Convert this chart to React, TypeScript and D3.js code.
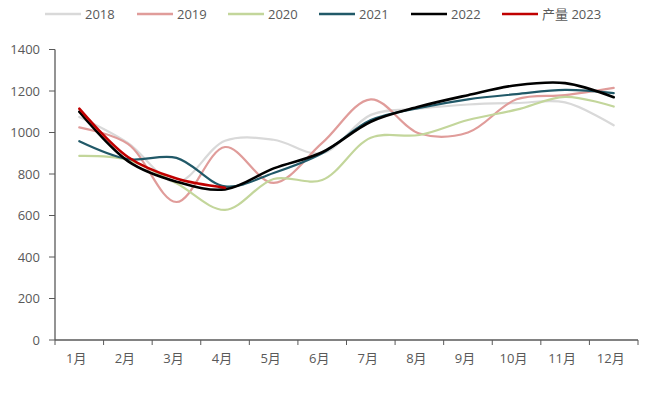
import React from "react";
import * as d3 from "d3";

const months = ["1月", "2月", "3月", "4月", "5月", "6月", "7月", "8月", "9月", "10月", "11月", "12月"];
const yTicks = [0, 200, 400, 600, 800, 1000, 1200, 1400];

const s2018 = [1075, 950, 760, 960, 965, 900, 1085, 1115, 1135, 1142, 1145, 1035];
const s2019 = [1025, 945, 665, 930, 757, 950, 1160, 995, 1000, 1160, 1180, 1215];
const s2020 = [887, 868, 755, 627, 776, 771, 975, 988, 1060, 1110, 1172, 1125];
const s2021 = [958, 872, 878, 740, 805, 900, 1060, 1118, 1160, 1185, 1205, 1190];
const s2022 = [1100, 862, 763, 726, 827, 905, 1052, 1125, 1180, 1228, 1238, 1170];
const s2023 = [1115, 882, 778, 734];

const series = [
  { name: "2018", values: s2018, color: "#d9d9d9", width: 2.2 },
  { name: "2019", values: s2019, color: "#e09c9a", width: 2.2 },
  { name: "2020", values: s2020, color: "#c3d69b", width: 2.2 },
  { name: "2021", values: s2021, color: "#215968", width: 2.2 },
  { name: "2022", values: s2022, color: "#000000", width: 2.6 },
  { name: "产量 2023", values: s2023, color: "#c00000", width: 2.6 },
];

const font = "'Open Sans', 'Noto Sans CJK SC', sans-serif";
const textColor = "#595959";

export default function App() {
  const width = 648;
  const height = 393;
  const x = d3.scaleBand<string>().domain(months).range([55, 638]);
  const y = d3.scaleLinear().domain([0, 1400]).range([340, 49.5]);

  const line = d3
    .line<number>()
    .x((_, i) => (x(months[i]) ?? 0) + x.bandwidth() / 2)
    .y((d) => y(d))
    .curve(d3.curveCatmullRom.alpha(0.5));

  const legendX = [45, 137, 228, 319, 411, 502];

  return (
    <svg
      width={width}
      height={height}
      style={{ position: "absolute", left: 0, top: 0, background: "#fff" }}
      fontFamily={font}
    >
      {/* legend */}
      {series.map((s, i) => (
        <g key={s.name} transform={`translate(${legendX[i]},14)`}>
          <line x1={0} x2={36} y1={0} y2={0} stroke={s.color} strokeWidth={2.5} />
          <text x={40} y={0} dy="0.35em" fontSize={13} fill={textColor}>
            {s.name}
          </text>
        </g>
      ))}

      {/* y axis */}
      <line x1={55} x2={55} y1={y(1400)} y2={y(0)} stroke="#595959" strokeWidth={1.3} />
      {yTicks.map((t) => (
        <g key={t}>
          <line x1={49} x2={55} y1={y(t)} y2={y(t)} stroke="#595959" strokeWidth={1} />
          <text x={40} y={y(t)} dy="0.35em" textAnchor="end" fontSize={13} fill={textColor}>
            {t}
          </text>
        </g>
      ))}

      {/* x axis */}
      <line x1={55} x2={638} y1={y(0)} y2={y(0)} stroke="#595959" strokeWidth={1.3} />
      {months.map((m, i) => (
        <line
          key={"t" + m}
          x1={(x(m) ?? 0)}
          x2={(x(m) ?? 0)}
          y1={y(0)}
          y2={y(0) + 5}
          stroke="#595959"
        />
      ))}
      <line x1={638} x2={638} y1={y(0)} y2={y(0) + 5} stroke="#595959" />
      {months.map((m) => (
        <text
          key={m}
          x={(x(m) ?? 0) + x.bandwidth() / 2 - 3}
          y={363}
          textAnchor="middle"
          fontSize={13}
          fill={textColor}
        >
          {m}
        </text>
      ))}

      {/* lines */}
      {series.map((s) => (
        <path
          key={s.name}
          d={line(s.values) ?? ""}
          fill="none"
          stroke={s.color}
          strokeWidth={s.width}
          strokeLinejoin="round"
          strokeLinecap="round"
        />
      ))}
    </svg>
  );
}
